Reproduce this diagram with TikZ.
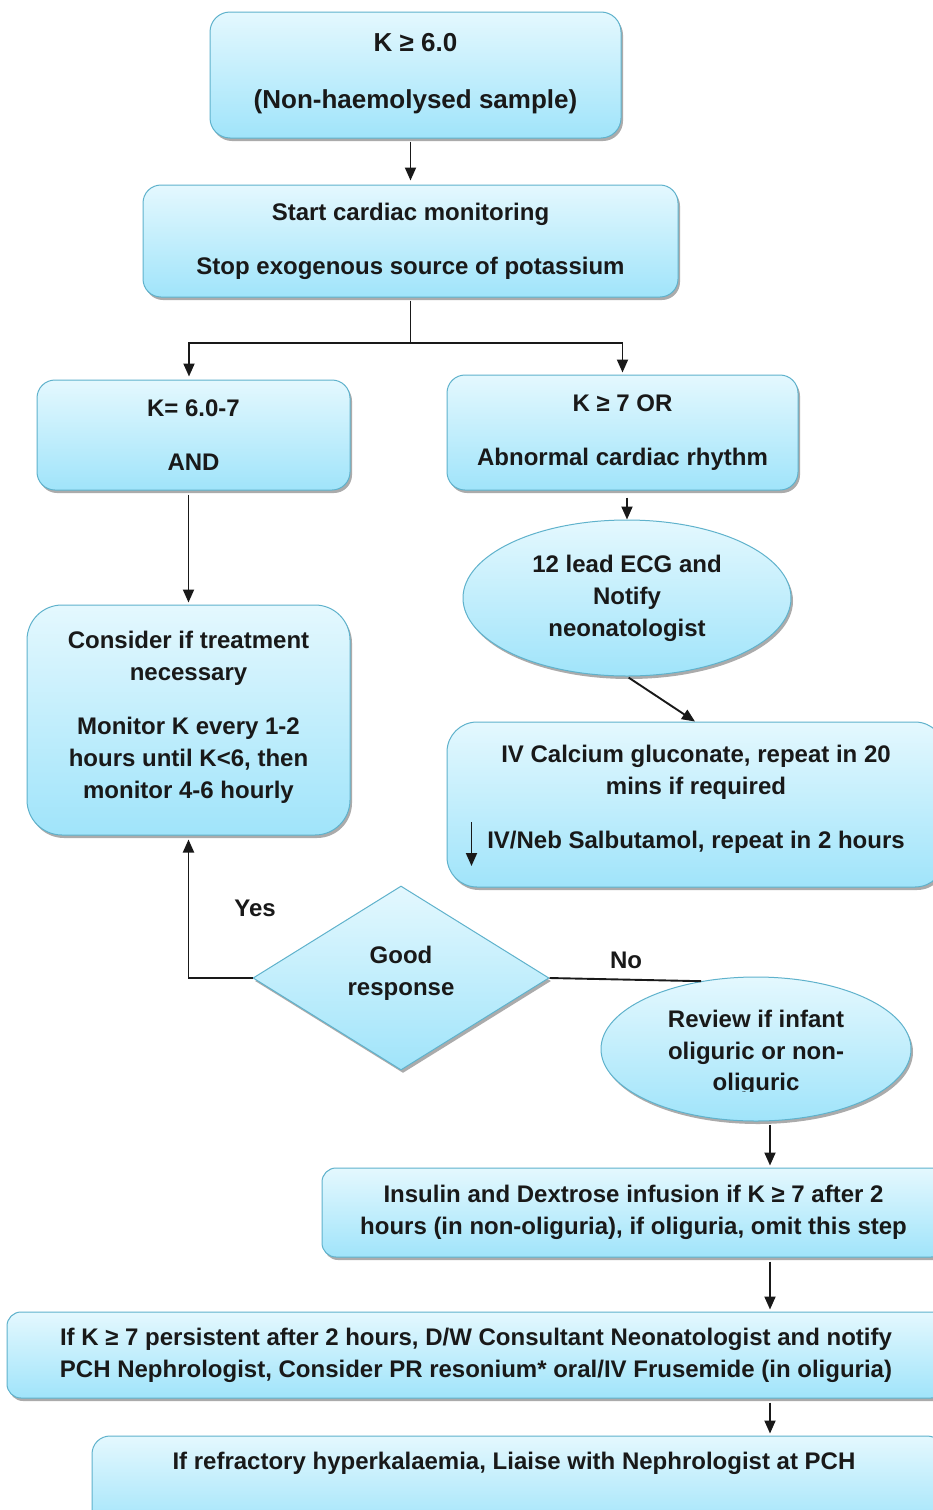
\documentclass[tikz,border=0pt]{standalone}
\usepackage{fontspec}
\setmainfont{Liberation Sans}
\usetikzlibrary{shapes.geometric,shadows,arrows.meta,calc}
\definecolor{boxtop}{RGB}{228,248,254}
\definecolor{boxbot}{RGB}{160,228,250}
\definecolor{boxline}{RGB}{95,178,204}
\definecolor{ink}{RGB}{25,25,25}
\tikzset{
  base/.style={draw=boxline, line width=1pt, top color=boxtop, bottom color=boxbot,
    drop shadow={shadow xshift=2pt, shadow yshift=-3pt, fill=black!55, opacity=0.6},
    align=center, font=\fontsize{24}{32}\selectfont\bfseries, text=ink, inner sep=0pt},
  rbox/.style={base, rectangle, rounded corners=#1},
  rbox/.default=18pt,
  oval/.style={base, ellipse},
  decision/.style={base, diamond, aspect=1.61},
  txt/.style={font=\fontsize{24}{32}\selectfont\bfseries, text=ink, align=center, inner sep=0pt},
  conn/.style={line width=1.9pt, ink},
  arr/.style={conn, -{Triangle[length=13pt,width=11pt]}},
}
\begin{document}
\begin{tikzpicture}[x=1pt,y=-1pt]
\useasboundingbox (0,0) rectangle (933,1510);
\fill[white] (0,0) rectangle (933,1510);

\node[rbox=20pt, minimum width=411pt, minimum height=126pt, font=\fontsize{26}{32}\selectfont\bfseries] (top) at (415.5,75)
  {K ≥ 6.0\\[25pt](Non-haemolysed sample)\\[-23pt]\mbox{}};
\node[rbox, minimum width=535pt, minimum height=112pt] (b2) at (410.5,241)
  {Start cardiac monitoring\\[22pt]Stop exogenous source of potassium};
\node[rbox, minimum width=313pt, minimum height=110pt] (b3) at (193.5,435)
  {K= 6.0-7\\[22pt]AND};
\node[rbox, minimum width=351pt, minimum height=115pt] (b4) at (622.5,432.5)
  {K ≥ 7 OR\\[22pt]Abnormal cardiac rhythm};
\node[rbox=35pt, minimum width=323pt, minimum height=230pt] (b5) at (188.5,720)
  {Consider if treatment\\necessary\\[22pt]Monitor K every 1-2\\hours until K<6, then\\monitor 4-6 hourly\\[-21pt]\mbox{}};
\node[oval, minimum width=328pt, minimum height=156pt] (e1) at (627,598)
  {12 lead ECG and\\Notify\\neonatologist};
\node[rbox=30pt, minimum width=498pt, minimum height=165pt] (b6) at (696,804.5)
  {IV Calcium gluconate, repeat in 20\\mins if required\\[22pt]IV/Neb Salbutamol, repeat in 2 hours\\[-17pt]\mbox{}};
\node[decision, minimum width=296pt, minimum height=184pt] (dia) at (401,978)
  {Good\\response\\[-17pt]\mbox{}};
\node[oval, minimum width=310pt, minimum height=144pt] (e2) at (756,1049) {};
\node[txt] (e2a) at (756,1037) {Review if infant\\oliguric or non-};
\begin{scope}
  \clip (650,1060) rectangle (860,1091);
  \node[txt] (e2b) at (756,1084) {oliguric};
\end{scope}
\node[rbox=14pt, minimum width=623pt, minimum height=89pt] (b7) at (633.5,1212.5)
  {Insulin and Dextrose infusion if K ≥ 7 after 2\\hours (in non-oliguria), if oliguria, omit this step};
\node[rbox=14pt, minimum width=938pt, minimum height=86pt] (b8) at (476,1355)
  {If K ≥ 7 persistent after 2 hours, D/W Consultant Neonatologist and notify\\PCH Nephrologist, Consider PR resonium* oral/IV Frusemide (in oliguria)};
\node[rbox, minimum width=853pt, minimum height=94pt] (b9) at (518.5,1483) {};
\node[txt] (b9t) at (514,1463) {If refractory hyperkalaemia, Liaise with Nephrologist at PCH};

\node[txt] (yes) at (255,908) {Yes};
\node[txt] (no) at (626,960) {No};

\coordinate (spine) at (770,0);
\coordinate (split) at (410.5,343);

\draw[arr, shorten <=3pt, shorten >=4pt] (top.south -| b2.north) -- (b2.north);
\draw[conn, shorten <=3pt] (b2.south) -- (split);
\draw[arr, shorten >=3pt] (split) -| ($(b3.north)+(-4.5,0)$);
\draw[arr, shorten >=2pt] (split) -| (b4.north);
\draw[arr, shorten <=4pt, shorten >=2pt] (b3.south -| b5.north) -- (b5.north);
\draw[arr] ($(b4.south -| e1.north)+(0,7)$) -- (e1.north);
\draw[arr, shorten <=2pt] (e1.south) -- ($(b6.north)+(-1,0)$);
\draw[arr] ($(b6.west)+(25,17.5)$) -- ++(0,44);
\draw[arr, shorten >=4pt] (dia.west) -| (b5.south);
\draw[conn] (dia.east) -- (e2.129);
\draw[arr, shorten <=3pt, shorten >=2pt] (e2.south -| spine) -- (b7.north -| spine);
\draw[arr, shorten <=4pt, shorten >=2pt] (b7.south -| spine) -- (b8.north -| spine);
\draw[arr, shorten <=4pt, shorten >=2pt] (b8.south -| spine) -- (b9.north -| spine);
\end{tikzpicture}
\end{document}
